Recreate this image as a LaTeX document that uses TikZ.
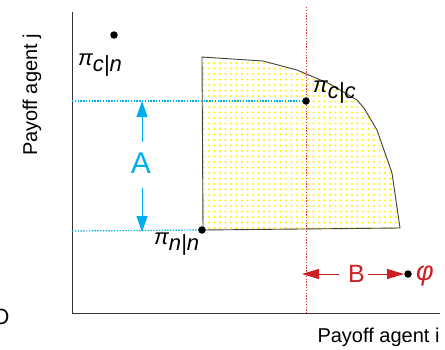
\documentclass[tikz,border=0pt]{standalone}
\usepackage{fontspec}
\setmainfont{Liberation Sans}
\usetikzlibrary{arrows.meta,patterns}
\definecolor{ablue}{RGB}{0,174,239}
\definecolor{bred}{RGB}{204,30,36}
\definecolor{ydot}{RGB}{255,240,0}
\pgfdeclarepatternformonly{ydots}{\pgfqpoint{-2pt}{-2pt}}{\pgfqpoint{2pt}{2pt}}{\pgfqpoint{5.5pt}{5.5pt}}{\pgfpathcircle{\pgfqpoint{0pt}{0pt}}{1.1pt}\pgfusepath{fill}}
\newcommand{\pilab}[1]{{\fontsize{22}{22}\selectfont\itshape π}\raisebox{-6pt}{\fontsize{22}{22}\selectfont\itshape #1}}
\begin{document}
\begin{tikzpicture}[x=1pt,y=-1pt,
  dot/.style={circle,fill=black,inner sep=0pt,minimum size=7.5pt},
  axisline/.style={draw=black!80,line width=1pt},
  bluedot/.style={draw=ablue,line width=1.2pt,dash pattern=on 1.4pt off 1.4pt},
  reddot/.style={draw=bred!85,line width=1pt,dash pattern=on 1.4pt off 1.4pt},
  bluearr/.style={draw=ablue,line width=1pt,-{Triangle[length=16pt,width=11pt]}},
  redarr/.style={draw=bred,line width=1pt,-{Triangle[length=17pt,width=10pt]}},
  lab/.style={inner sep=0pt,font=\fontsize{20}{20}\selectfont}]
\useasboundingbox (0,0) rectangle (445,349);
% region
\path[pattern=ydots,pattern color=ydot] (202,57) -- (263,61) -- (297,70) -- (330,84) -- (357,100) -- (364,108) -- (377,130) -- (392,173) -- (400,228) -- (203,230) -- cycle;
\draw[black!75,line width=0.9pt] (202,57) -- (263,61) -- (297,70) -- (330,84) -- (357,100) -- (364,108) -- (377,130) -- (392,173) -- (400,228) -- (203,230) -- cycle;
% axes
\coordinate (o) at (72,313);
\coordinate (ytop) at (72,12);
\coordinate (xend) at (440,313);
\draw[axisline] (ytop) -- (o) -- (xend);
% point positions
\coordinate (pcc) at (306,101);
\coordinate (pnn) at (202,230);
% dotted guides
\coordinate (ya) at (72,101);
\coordinate (yb) at (72,231);
\coordinate (rtop) at (306,7);
\coordinate (rbot) at (306,313);
\draw[bluedot] (ya) -- (pcc);
\draw[bluedot] (yb) -- (pnn);
\draw[reddot] (rtop) -- (rbot);
% points
\node[dot] (cn) at (114,35) {};
\node[dot] (cc) at (pcc) {};
\node[dot] (nn) at (pnn) {};
\node[dot] (phi) at (408,274) {};
% A
\node[lab,text=ablue,font=\fontsize{30}{30}\selectfont] (A) at (141,163) {A};
\coordinate (atop) at (142,101);
\coordinate (abot) at (142,232);
\draw[bluearr] (142,142) -- (atop);
\draw[bluearr] (142,188) -- (abot);
% B
\node[lab,text=bred,font=\fontsize{25}{25}\selectfont] (B) at (356.5,273.5) {B};
\coordinate (bl) at (302,274);
\draw[redarr] (339,274) -- (bl);
\draw[redarr] (368,274) -- (phi.west);
\node[lab,text=bred,anchor=west,font=\fontsize{27}{27}\selectfont] (phil) at (416,276) {\itshape φ};
% pi labels
\node[inner sep=0pt,anchor=base west] (lcn) at (78,65) {\pilab{c|n}};
\node[inner sep=0pt,anchor=base west] (lcc) at (313,92) {\pilab{c|c}};
\node[inner sep=0pt,anchor=base west] (lnn) at (154,244) {\pilab{n|n}};
% axis labels
\node[lab,anchor=base] (xl) at (378.5,342) {Payoff agent i};
\node[lab,anchor=base,rotate=90] (yl) at (37,95) {Payoff agent j};
\node[lab,font=\fontsize{22}{22}\selectfont] (zero) at (1,317) {O};
\end{tikzpicture}
\end{document}
